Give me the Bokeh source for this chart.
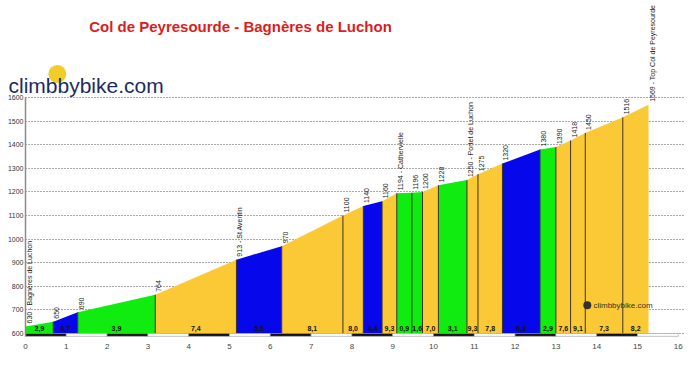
import math
from bokeh.plotting import figure
from bokeh.models import Label, FixedTicker, Range1d, ColumnDataSource
from bokeh.core.properties import value
from bokeh.embed import file_html
from bokeh.resources import INLINE

# ---------------- data ----------------
title_text = "Col de Peyresourde - Bagnères de Luchon"
dist_km = [0.0, 0.68, 1.28, 3.18, 5.17, 6.28, 7.78, 8.28, 8.74, 9.10, 9.47,
           9.73, 10.12, 10.82, 11.09, 11.69, 12.61, 13.00, 13.36, 13.72, 14.64, 15.27]
elev_m = [630, 650, 690, 764, 913, 970, 1100, 1140, 1160, 1194, 1196,
          1200, 1228, 1250, 1275, 1320, 1380, 1390, 1418, 1450, 1516, 1569]
point_labels = ["630 - Bagnères de Luchon", "650", "690", "764", "913 - St Aventin", "970",
                "1100", "1140", "1160", "1194 - Cathervielle", "1196", "1200", "1228",
                "1250 - Portet de Luchon", "1275", "1320", "1380", "1390", "1418", "1450",
                "1516", "1569 - Top Col de Peyresourde"]
grades = ["2,9", "6,7", "3,9", "7,4", "5,0", "8,1", "8,0", "4,4", "9,3", "0,9", "1,6",
          "7,0", "3,1", "9,3", "7,8", "6,3", "2,9", "7,6", "9,1", "7,3", "8,2"]
seg_class = ["green", "blue", "green", "yellow", "blue", "yellow", "yellow", "blue", "yellow",
             "green", "green", "yellow", "green", "yellow", "yellow", "blue", "green",
             "yellow", "yellow", "yellow", "yellow"]
x_ticks = list(range(0, 17))
y_ticks = list(range(600, 1700, 100))

# ---------------- styles ----------------
palette = {"yellow": "#fcc936", "blue": "#0707ec", "green": "#10ec10"}
BASE = 600
STRIP_BOTTOM = 588
FONT = "Liberation Sans"

W, H = 684, 352
PX_KM = 40.8          # pixels per km
PX_M = 0.236          # pixels per metre
X0_PX = 25            # km 0 position
Y1600_PX = 97         # 1600 m position from top
x_start = -X0_PX / PX_KM
x_end = x_start + W / PX_KM
y_end = 1600 + Y1600_PX / PX_M
y_start = y_end - H / PX_M

p = figure(width=W, height=H, output_backend="svg", toolbar_location=None,
           x_range=Range1d(x_start, x_end), y_range=Range1d(y_start, y_end),
           min_border_left=0, min_border_right=0, min_border_top=0, min_border_bottom=0)
p.outline_line_color = None
p.background_fill_color = "white"
p.border_fill_color = "white"

p.xgrid.visible = False
p.ygrid.ticker = FixedTicker(ticks=y_ticks)
p.ygrid.cross_bounds = (0, x_end)
p.ygrid.grid_line_color = "#555555"
p.ygrid.grid_line_dash = "1 2"
p.ygrid.grid_line_width = 1

yax = p.yaxis[0]
yax.fixed_location = 0
yax.ticker = FixedTicker(ticks=y_ticks)
yax.bounds = (STRIP_BOTTOM, 1600)
yax.axis_line_color = "#8a8a8a"
yax.axis_line_width = 1.5
yax.major_tick_out = 0
yax.major_tick_in = 0
yax.minor_tick_line_color = None
yax.major_label_standoff = 2
yax.major_label_text_font = FONT
yax.major_label_text_font_size = "7px"
yax.major_label_text_color = "#333333"

xax = p.xaxis[0]
xax.fixed_location = STRIP_BOTTOM
xax.ticker = FixedTicker(ticks=x_ticks)
xax.axis_line_color = None
xax.major_tick_line_color = None
xax.minor_tick_line_color = None
xax.major_label_standoff = 2
xax.major_label_text_font = FONT
xax.major_label_text_font_size = "8px"
xax.major_label_text_color = "#444444"

# ---------------- profile segments ----------------
n = len(seg_class)
seg_src = ColumnDataSource(dict(
    xs=[[dist_km[i], dist_km[i], dist_km[i + 1], dist_km[i + 1]] for i in range(n)],
    ys=[[BASE, elev_m[i], elev_m[i + 1], BASE] for i in range(n)],
    color=[palette[c] for c in seg_class],
    mid=[(dist_km[i] + dist_km[i + 1]) / 2 for i in range(n)],
    base=[BASE] * n,
    grade=grades,
))
p.patches("xs", "ys", source=seg_src, fill_color="color", line_color=None)

# boundary lines
p.segment(x0=dist_km[1:-1], y0=[BASE] * (len(dist_km) - 2),
          x1=dist_km[1:-1], y1=elev_m[1:-1], line_color="#3a3226", line_width=1)

# grade labels
p.text(x="mid", y="base", text="grade", source=seg_src, text_align="center",
       text_baseline="middle", y_offset=-5, text_font=value(FONT),
       text_font_size="7px", text_font_style="bold", text_color="#111111")

# elevation labels
p.text(x=dist_km, y=elev_m, text=point_labels, angle=math.pi / 2,
       text_align="left", text_baseline="middle", x_offset=3.5, y_offset=-3,
       text_font=value(FONT), text_font_size="7px", text_color="#222222")

# km strip under the axis
strip_left = x_ticks[:-1]
strip_right = x_ticks[1:]
strip_fill = ["#111111" if k % 2 == 0 else "white" for k in strip_left]
p.quad(left=strip_left, right=strip_right, top=[BASE] * len(strip_left),
       bottom=[STRIP_BOTTOM] * len(strip_left), fill_color=strip_fill,
       line_color="#999999", line_width=0.6)

# logo icons
p.scatter(x=[0.78], y=[1700], size=18, marker="circle", fill_color="#f2cd2a",
          line_color=None)
p.scatter(x=[13.77], y=[720], size=8, marker="circle", fill_color="#333333",
          line_color=None)

# ---------------- texts ----------------
p.add_layout(Label(x=5.27, y=1900, text=title_text, text_align="center",
                   text_baseline="middle", text_font=FONT, text_font_size="15px",
                   text_font_style="bold", text_color="#d81e1e"))
p.add_layout(Label(x=x_start + 8 / PX_KM, y=1650, text="climbbybike.com",
                   text_align="left", text_baseline="alphabetic", text_font=FONT,
                   text_font_size="21px", text_color="#1c2b5e"))
p.add_layout(Label(x=13.92, y=720, text="climbbybike.com", text_align="left",
                   text_baseline="middle", text_font=FONT, text_font_size="8px",
                   text_color="#333333"))

open("out.html", "w").write(file_html(p, INLINE))
